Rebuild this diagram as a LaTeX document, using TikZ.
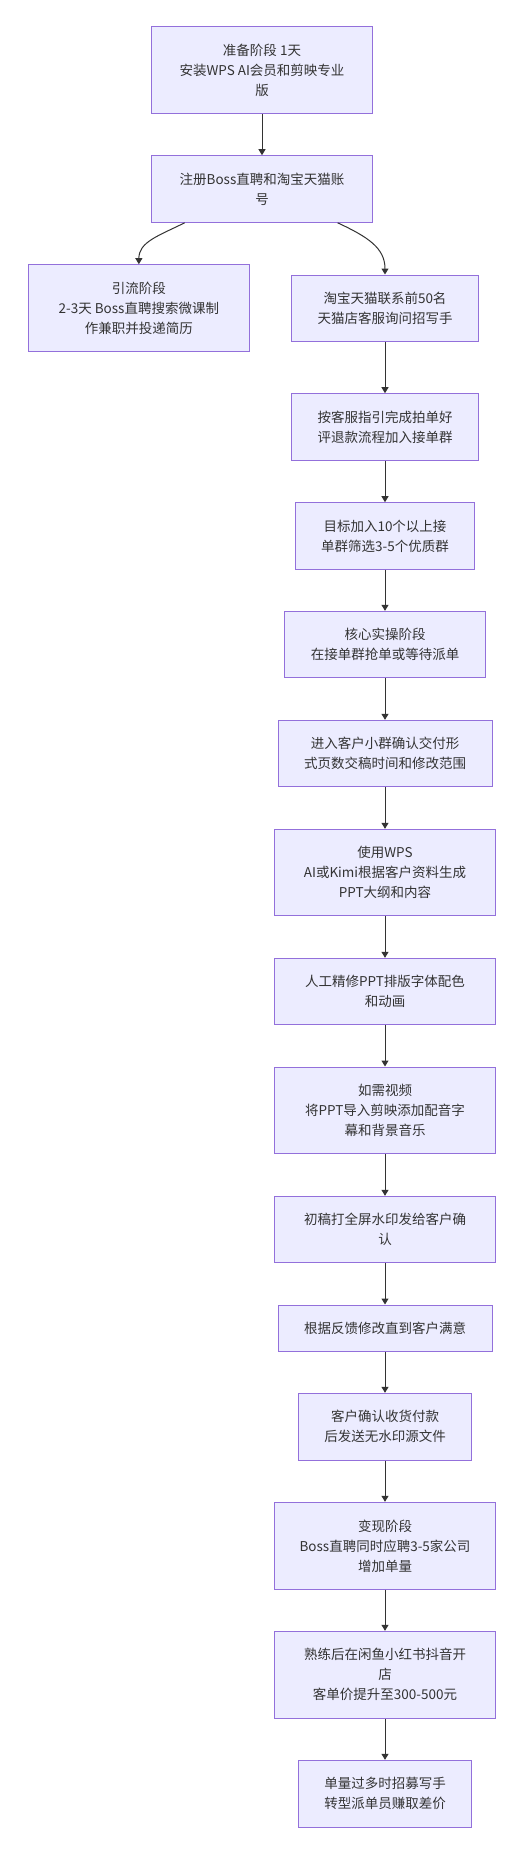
\documentclass[tikz,border=0pt]{standalone}
\usepackage{fontspec}
\setmainfont{Noto Sans CJK SC}
\usetikzlibrary{arrows.meta}
\definecolor{boxfill}{HTML}{ECECFF}
\definecolor{boxdraw}{HTML}{9370DB}
\definecolor{linec}{HTML}{333333}
\tikzset{
  box/.style={draw=boxdraw, fill=boxfill, line width=1pt, inner sep=0pt, align=center,
    text=linec, font=\fontsize{13.5}{20}\selectfont},
  flow/.style={draw=linec, line width=1pt, -{Triangle[length=6pt,width=7pt]}}
}
\begin{document}
\begin{tikzpicture}[x=1pt,y=-1pt]
\useasboundingbox[fill=white] (0,0) rectangle (524,1868);
\node[box, minimum width=220.3pt, minimum height=86.6pt] (b1) at (262,70) {准备阶段 1天\\安装WPS AI会员和剪映专业\\版};
\node[box, minimum width=220.3pt, minimum height=66.6pt] (b2) at (262,189) {注册Boss直聘和淘宝天猫账\\号};
\node[box, minimum width=220.3pt, minimum height=86.6pt] (b3) at (138.85,308) {引流阶段\\2-3天 Boss直聘搜索微课制\\作兼职并投递简历};
\node[box, minimum width=186.6pt, minimum height=66.3pt] (b4) at (385,308.15) {淘宝天猫联系前50名\\天猫店客服询问招写手};
\node[box, minimum width=186.6pt, minimum height=66.6pt] (b5) at (385,427) {按客服指引完成拍单好\\评退款流程加入接单群};
\node[box, minimum width=178.3pt, minimum height=66.6pt] (b6) at (385,536) {目标加入10个以上接\\单群筛选3-5个优质群};
\node[box, minimum width=200.3pt, minimum height=66.4pt] (b7) at (385,644.5) {核心实操阶段\\在接单群抢单或等待派单};
\node[box, minimum width=214pt, minimum height=66pt] (b8) at (385,753.3) {进入客户小群确认交付形\\式页数交稿时间和修改范围};
\node[box, minimum width=220.6pt, minimum height=86.4pt] (b9) at (385,872.5) {使用WPS\\AI或Kimi根据客户资料生成\\PPT大纲和内容};
\node[box, minimum width=220.6pt, minimum height=66.4pt] (b10) at (385,991.5) {人工精修PPT排版字体配色\\和动画};
\node[box, minimum width=220.6pt, minimum height=86.7pt] (b11) at (385,1110.35) {如需视频\\将PPT导入剪映添加配音字\\幕和背景音乐};
\node[box, minimum width=220.6pt, minimum height=66.4pt] (b12) at (385,1229.5) {初稿打全屏水印发给客户确\\认};
\node[box, minimum width=214pt, minimum height=46.3pt] (b13) at (385,1328.15) {根据反馈修改直到客户满意};
\node[box, minimum width=172.7pt, minimum height=66.7pt] (b14) at (385,1426.65) {客户确认收货付款\\后发送无水印源文件};
\node[box, minimum width=220.6pt, minimum height=87pt] (b15) at (385,1545.8) {变现阶段\\Boss直聘同时应聘3-5家公司\\增加单量};
\node[box, minimum width=220.6pt, minimum height=87pt] (b16) at (385,1674.8) {熟练后在闲鱼小红书抖音开\\店\\客单价提升至300-500元};
\node[box, minimum width=172.7pt, minimum height=66.7pt] (b17) at (385,1793.65) {单量过多时招募写手\\转型派单员赚取差价};
\draw[flow] (b1) -- (b2);
\draw[flow] ([xshift=33.3pt]b2.south west) .. controls (158,236) and (138.85,242) .. (b3.north);
\draw[flow] ([xshift=-35pt]b2.south east) .. controls (368,237) and (385,248) .. (b4.north);
\draw[flow] (b4) -- (b5);
\draw[flow] (b5) -- (b6);
\draw[flow] (b6) -- (b7);
\draw[flow] (b7) -- (b8);
\draw[flow] (b8) -- (b9);
\draw[flow] (b9) -- (b10);
\draw[flow] (b10) -- (b11);
\draw[flow] (b11) -- (b12);
\draw[flow] (b12) -- (b13);
\draw[flow] (b13) -- (b14);
\draw[flow] (b14) -- (b15);
\draw[flow] (b15) -- (b16);
\draw[flow] (b16) -- (b17);
\end{tikzpicture}
\end{document}
